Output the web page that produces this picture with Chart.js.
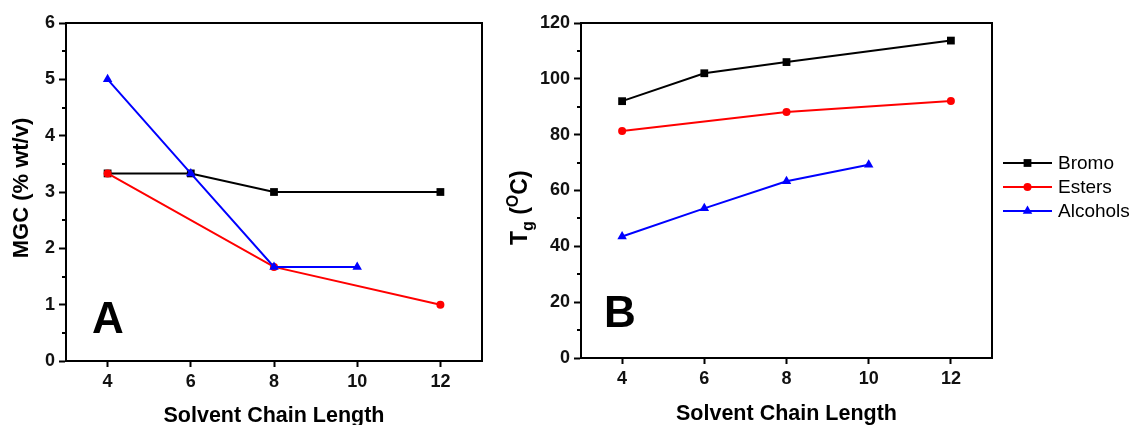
<!DOCTYPE html>
<html>
<head>
<meta charset="utf-8">
<script src="https://cdn.jsdelivr.net/npm/chart.js@4/dist/chart.umd.min.js"></script>
<style>
  html, body { margin: 0; padding: 0; background: #fff; }
  #wrap { position: relative; width: 1136px; height: 425px; overflow: hidden; }
  canvas { position: absolute; top: 0; }
</style>
</head>
<body>
<div id="wrap">
  <canvas id="chartA" width="500" height="425" style="left:0"></canvas>
  <canvas id="chartB" width="636" height="425" style="left:500px"></canvas>
</div>
<script>
// ---- data ----
var xTicks = [4, 6, 8, 10, 12];
var seriesNames = ["Bromo", "Esters", "Alcohols"];
var seriesColors = ["#000000", "#ff0000", "#0000ff"];
var seriesMarkers = ["rect", "circle", "triangle"];
var markerRadius = [5.5, 4, 5.5];

// panel A: MGC (% wt/v)
var bromoLengthsA = [4, 6, 8, 12];
var bromoMGC = [3.33, 3.33, 3.0, 3.0];
var esterLengthsA = [4, 8, 12];
var esterMGC = [3.33, 1.67, 1.0];
var alcoholLengthsA = [4, 6, 8, 10];
var alcoholMGC = [5.0, 3.33, 1.67, 1.67];

// panel B: Tg (oC)
var bromoLengthsB = [4, 6, 8, 12];
var bromoTg = [92, 102, 106, 113.7];
var esterLengthsB = [4, 8, 12];
var esterTg = [81.3, 88.1, 92.1];
var alcoholLengthsB = [4, 6, 8, 10];
var alcoholTg = [43.5, 53.6, 63.3, 69.2];

var FONT = '"Liberation Sans", Arial, sans-serif';

function pairs(xs, ys) {
  var out = [];
  for (var i = 0; i < xs.length; i++) out.push({x: xs[i], y: ys[i]});
  return out;
}

function makeDatasets(lists) {
  var sets = [];
  for (var i = 0; i < lists.length; i++) {
    sets.push({
      label: seriesNames[i],
      data: pairs(lists[i][0], lists[i][1]),
      borderColor: seriesColors[i],
      backgroundColor: seriesColors[i],
      pointBackgroundColor: seriesColors[i],
      pointBorderColor: seriesColors[i],
      pointStyle: seriesMarkers[i],
      pointRadius: markerRadius[i],
      pointBorderWidth: 0,
      borderWidth: 2,
      tension: 0,
      clip: false,
      order: lists.length - i   // blue on top, black at the back
    });
  }
  return sets;
}

function drawMarker(ctx, i, x, y) {
  if (Chart.helpers && Chart.helpers.drawPoint) {
    ctx.fillStyle = seriesColors[i];
    ctx.strokeStyle = seriesColors[i];
    Chart.helpers.drawPoint(ctx, {pointStyle: seriesMarkers[i], radius: markerRadius[i], rotation: 0, borderWidth: 0}, x, y);
  }
}

// frame, minor ticks, titles, panel letter, legend
var decor = {
  id: "decor",
  afterDraw: function(chart, args, opts) {
    var ctx = chart.ctx;
    var a = chart.chartArea;
    var ys = chart.scales.y;
    ctx.save();
    ctx.strokeStyle = "#000";
    ctx.lineWidth = 2;
    ctx.beginPath();
    ctx.moveTo(a.left, a.top);
    ctx.lineTo(a.right, a.top);
    ctx.lineTo(a.right, a.bottom);
    ctx.stroke();

    // minor ticks on y
    ctx.beginPath();
    for (var v = opts.minorStep; v < ys.max; v += opts.minorStep * 2) {
      var py = Math.round(ys.getPixelForValue(v));
      ctx.moveTo(a.left - 4, py);
      ctx.lineTo(a.left, py);
    }
    ctx.stroke();

    ctx.fillStyle = "#000";
    // x title
    ctx.font = "bold 21.5px " + FONT;
    ctx.textAlign = "center";
    ctx.textBaseline = "alphabetic";
    ctx.fillText("Solvent Chain Length", (a.left + a.right) / 2, opts.xTitleBase);

    // panel letter
    ctx.font = "bold 44px " + FONT;
    ctx.fillText(opts.letter, opts.letterX, opts.letterBase);

    // y title
    ctx.save();
    ctx.translate(opts.yTitleX, opts.yTitleY);
    ctx.rotate(-Math.PI / 2);
    if (opts.tg) {
      ctx.textAlign = "left";
      var x = 0;
      ctx.font = "bold 23px " + FONT;
      ctx.fillText("T", x, 0); x += ctx.measureText("T").width;
      ctx.font = "bold 16px " + FONT;
      ctx.fillText("g", x, 6); x += ctx.measureText("g").width;
      ctx.font = "bold 23px " + FONT;
      ctx.fillText(" (", x, 0); x += ctx.measureText(" (").width;
      ctx.font = "bold 16px " + FONT;
      ctx.fillText("O", x, -9); x += ctx.measureText("O").width;
      ctx.font = "bold 23px " + FONT;
      ctx.fillText("C)", x, 0);
    } else {
      ctx.font = "bold 22px " + FONT;
      ctx.textAlign = "center";
      ctx.textBaseline = "middle";
      ctx.fillText(opts.yTitle, 0, 0);
    }
    ctx.restore();

    // legend (panel B only)
    if (opts.legendX !== undefined) {
      var ds = chart.data.datasets;
      for (var i = 0; i < ds.length; i++) {
        var ly = opts.legendY + i * 24;
        ctx.strokeStyle = seriesColors[i];
        ctx.lineWidth = 2;
        ctx.beginPath();
        ctx.moveTo(opts.legendX, ly);
        ctx.lineTo(opts.legendX + 49, ly);
        ctx.stroke();
        drawMarker(ctx, i, opts.legendX + 24.5, ly);
        ctx.fillStyle = "#000";
        ctx.font = "19px " + FONT;
        ctx.textAlign = "left";
        ctx.textBaseline = "middle";
        ctx.fillText(ds[i].label, opts.legendX + 55, ly + 1);
      }
    }
    ctx.restore();
  }
};

function buildOptions(cfg) {
  return {
    responsive: false,
    animation: false,
    devicePixelRatio: 1,
    layout: {padding: {left: 0, top: cfg.top, right: cfg.right, bottom: 0}},
    plugins: {legend: {display: false}, tooltip: {enabled: false}, decor: cfg.decor},
    scales: {
      x: {
        type: "linear",
        min: 3, max: 13,
        afterBuildTicks: function(scale) {
          scale.ticks = xTicks.map(function(v) { return {value: v}; });
        },
        afterFit: function(scale) { scale.height = cfg.xHeight; },
        border: {display: true, color: "#000", width: 2},
        grid: {display: true, drawOnChartArea: false, drawTicks: true, tickLength: 6, tickWidth: 2, tickColor: "#000"},
        ticks: {color: "#111", padding: 4, font: {family: FONT, size: 18, weight: "bold"}, maxRotation: 0}
      },
      y: {
        type: "linear",
        min: 0, max: cfg.yMax,
        afterFit: function(scale) { scale.width = cfg.yWidth; },
        border: {display: true, color: "#000", width: 2},
        grid: {display: true, drawOnChartArea: false, drawTicks: true, tickLength: 7, tickWidth: 2, tickColor: "#000"},
        ticks: {stepSize: cfg.yStep, color: "#111", padding: 4, font: {family: FONT, size: 18, weight: "bold"}}
      }
    }
  };
}

new Chart(document.getElementById("chartA"), {
  type: "line",
  data: {datasets: makeDatasets([[bromoLengthsA, bromoMGC], [esterLengthsA, esterMGC], [alcoholLengthsA, alcoholMGC]])},
  options: buildOptions({
    top: 23, right: 18, xHeight: 64, yWidth: 66, yMax: 6, yStep: 1,
    decor: {minorStep: 0.5, xTitleBase: 422, letter: "A", letterX: 108, letterBase: 333,
            yTitle: "MGC (% wt/v)", yTitleX: 22, yTitleY: 188}
  }),
  plugins: [decor]
});

new Chart(document.getElementById("chartB"), {
  type: "line",
  data: {datasets: makeDatasets([[bromoLengthsB, bromoTg], [esterLengthsB, esterTg], [alcoholLengthsB, alcoholTg]])},
  options: buildOptions({
    top: 23, right: 144, xHeight: 67, yWidth: 81, yMax: 120, yStep: 20,
    decor: {minorStep: 10, xTitleBase: 420, letter: "B", letterX: 120, letterBase: 327,
            tg: true, yTitleX: 27, yTitleY: 245, legendX: 503, legendY: 163}
  }),
  plugins: [decor]
});
</script>
</body>
</html>
